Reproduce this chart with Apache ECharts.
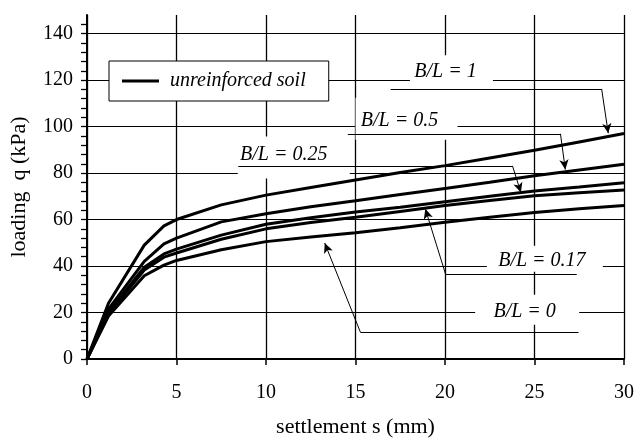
<!DOCTYPE html>
<html>
<head>
<meta charset="utf-8">
<script src="https://cdn.jsdelivr.net/npm/echarts@6/dist/echarts.min.js"></script>
<style>
  html, body { margin: 0; padding: 0; background: #fff; }
  #chart { width: 637px; height: 443px; }
</style>
</head>
<body>
<div id="chart"></div>
<script>
const settlement = [0, 1.2, 3.2, 4.3, 5, 7.5, 10, 12.5, 15, 17.5, 20, 22.5, 25, 27.5, 30];
const loadBL1 = [0, 24, 49, 57.3, 60, 66.3, 70.5, 73.8, 77, 80.2, 83.2, 86.5, 89.8, 93.4, 97];
const loadBL050 = [0, 21.5, 42, 49.5, 52, 59, 62.5, 65.5, 68.1, 70.8, 73.4, 76, 78.8, 81.3, 83.8];
const loadBL025 = [0, 20, 39.5, 45.2, 47.3, 53.3, 58, 60.8, 63.2, 65.3, 67.7, 70, 72.3, 74, 75.8];
const loadBL017 = [0, 19.5, 38.3, 43.8, 45.6, 51.5, 56, 58.7, 61, 63.5, 66, 68.2, 70.2, 71.5, 72.7];
const loadBL0 = [0, 18.5, 35.8, 40.4, 42.4, 47, 50.5, 52.5, 54.3, 56.5, 58.8, 61, 63, 64.6, 66];
const loadGridValues = [20, 40, 60, 80, 100, 120, 140];
const legendName = "unreinforced soil";

// callout boxes and leaders, in data units (s, q)
const callouts = [
  { text: "B/L = 1", box: [20.36, 121.4], size: [83, 43], offset: [-6, -5],
    line: [[16.96, 116.2], [28.75, 116.2]], arrow: [[28.75, 116.2], [29.12, 97.1]] },
  { text: "B/L = 0.5", box: [17.85, 103.4], size: [102, 42], offset: [-7, 2],
    line: [[14.57, 96.9], [26.45, 96.9]], arrow: [[26.45, 96.9], [26.72, 81.5]] },
  { text: "B/L = 0.25", box: [11.55, 86.7], size: [112, 42], offset: [-10, -3],
    line: [[8.45, 83.1], [23.77, 83.1]], arrow: [[23.77, 83.1], [24.24, 71.6]] },
  { text: "B/L = 0.17", box: [25.58, 43.1], size: [116, 26], offset: [-3, 1.5],
    line: [[27.36, 36.3], [20.04, 36.3]], arrow: [[20.04, 36.3], [18.9, 64.6]] },
  { text: "B/L = 0", box: [24.59, 21.2], size: [104, 30], offset: [-2.5, 2],
    line: [[27.46, 11.6], [15.27, 11.6]], arrow: [[15.27, 11.6], [13.28, 49.9]] }
];

const serif = "'Liberation Serif', 'Times New Roman', serif";
const curves = [loadBL1, loadBL050, loadBL025, loadBL017, loadBL0];

function pairs(ys) {
  return settlement.map((s, i) => [s, ys[i]]);
}

const chart = echarts.init(document.getElementById("chart"));

const leaderData = [];
callouts.forEach((c) => {
  leaderData.push([{ coord: c.line[0] }, { coord: c.line[1] }]);
  leaderData.push([{ coord: c.arrow[0] }, { coord: c.arrow[1], symbol: "arrow", symbolSize: [7, 10] }]);
});

chart.setOption({
  animation: false,
  color: ["#000"],
  grid: { left: 83, right: 11, top: 15, bottom: 76 },
  legend: {
    data: [legendName],
    left: 109,
    top: 61,
    z: 10,
    icon: "rect",
    itemWidth: 37,
    itemHeight: 3,
    padding: [10, 23, 10, 13],
    backgroundColor: "#fff",
    borderColor: "#000",
    borderWidth: 1,
    selectedMode: false,
    textStyle: { fontFamily: serif, fontStyle: "italic", fontSize: 20, color: "#000", padding: [0, 0, 0, 6] }
  },
  xAxis: {
    type: "value",
    min: 0,
    max: 30,
    interval: 5,
    name: "settlement s (mm)",
    nameLocation: "middle",
    nameGap: 57,
    nameTextStyle: { fontFamily: serif, fontSize: 22, color: "#000" },
    axisLine: { lineStyle: { color: "#000", width: 2 } },
    axisTick: { length: 6, lineStyle: { color: "#000", width: 1.5 } },
    axisLabel: { fontFamily: serif, fontSize: 20, color: "#000", margin: 24 },
    splitLine: { lineStyle: { color: "#000", width: 1.3 } }
  },
  yAxis: {
    type: "value",
    min: 0,
    max: 148,
    interval: 4,
    name: "loading  q (kPa)",
    nameLocation: "middle",
    nameGap: 57,
    nameTextStyle: { fontFamily: serif, fontSize: 22, color: "#000" },
    axisLine: { show: true, lineStyle: { color: "#000", width: 2 } },
    axisTick: { show: true, length: 6, lineStyle: { color: "#000", width: 1.3 } },
    axisLabel: {
      fontFamily: serif, fontSize: 20, color: "#000", margin: 14,
      showMaxLabel: false,
      formatter: (v) => (v % 20 === 0 ? String(v) : "")
    },
    splitLine: { show: false }
  },
  series: [
    {
      name: "grid",
      type: "line",
      data: [],
      z: 1,
      silent: true,
      markLine: {
        z: 1,
        silent: true,
        symbol: ["none", "none"],
        label: { show: false },
        lineStyle: { color: "#000", width: 1, type: "solid" },
        data: loadGridValues.map((v) => ({ yAxis: v }))
      }
    },
    {
      name: "boxes",
      type: "line",
      data: [],
      z: 3,
      silent: true,
      markPoint: {
        z: 3,
        silent: true,
        data: callouts.map((c) => ({
          coord: c.box,
          symbol: "rect",
          symbolSize: c.size,
          itemStyle: { color: "#fff", borderWidth: 0 },
          label: {
            show: true,
            position: "inside",
            offset: c.offset,
            formatter: c.text,
            fontFamily: serif,
            fontStyle: "italic",
            fontSize: 20,
            color: "#000"
          }
        }))
      }
    },
    {
      name: "leaders",
      type: "line",
      data: [],
      z: 4,
      silent: true,
      markLine: {
        z: 4,
        silent: true,
        symbol: ["none", "none"],
        label: { show: false },
        lineStyle: { color: "#000", width: 1, type: "solid" },
        data: leaderData
      }
    },
    ...curves.map((ys) => ({
      name: legendName,
      type: "line",
      data: pairs(ys),
      z: 5,
      symbol: "none",
      lineStyle: { color: "#000", width: 3 }
    }))
  ]
});
</script>
</body>
</html>
